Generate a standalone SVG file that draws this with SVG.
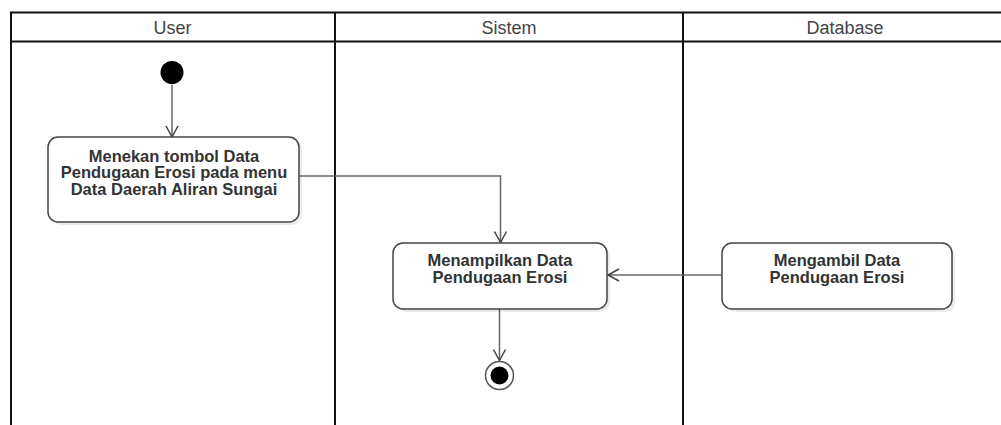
<svg xmlns="http://www.w3.org/2000/svg" width="1001" height="425" viewBox="0 0 1001 425">
<style>
.lane{fill:none;stroke:#111;stroke-width:2}
.hdr{font-family:"Liberation Sans",Arial,sans-serif;font-size:18px;fill:#444;text-anchor:middle}
.box{fill:#fff;stroke:#444;stroke-width:1.5}
.shadow{fill:#000;opacity:0.08}
.lbl{font-family:"Liberation Sans",Arial,sans-serif;font-size:16.5px;font-weight:bold;fill:#333;text-anchor:middle}
.edge{fill:none;stroke:#666;stroke-width:1.5}
</style>
<defs>
<marker id="arr" markerUnits="userSpaceOnUse" markerWidth="14" markerHeight="14" viewBox="0 0 14 14" refX="12" refY="7" orient="auto">
<path d="M1,1 L12,7 L1,13" fill="none" stroke="#444" stroke-width="1.5"/>
</marker>
</defs>
<rect width="1001" height="425" fill="#fff"/>
<g id="swimlanes">
<path class="lane" d="M11,425 V12.5 H1010 M11,41.5 H1010 M335,12.5 V425 M683,12.5 V425"/>
<text class="hdr" x="172.5" y="34">User</text>
<text class="hdr" x="509" y="34">Sistem</text>
<text class="hdr" x="845" y="34">Database</text>
</g>
<g id="connectors">
<path class="edge" d="M172,84.5 V137" marker-end="url(#arr)"/>
<path class="edge" d="M299,176 H500.5 V242.5" marker-end="url(#arr)"/>
<path class="edge" d="M722,275 H608" marker-end="url(#arr)"/>
<path class="edge" d="M499.5,309 V360.5" marker-end="url(#arr)"/>
</g>
<g id="start">
<circle cx="172" cy="72.5" r="11.5" fill="#000"/>
</g>
<g id="act1">
<rect class="shadow" x="51" y="140" width="251" height="85" rx="10"/>
<rect class="box" x="48" y="137" width="251" height="85" rx="10"/>
<text class="lbl" x="174" y="161.5">Menekan tombol Data</text>
<text class="lbl" x="174" y="178">Pendugaan Erosi pada menu</text>
<text class="lbl" x="174" y="194.5">Data Daerah Aliran Sungai</text>
</g>
<g id="act2">
<rect class="shadow" x="396" y="246" width="214" height="66" rx="10"/>
<rect class="box" x="393" y="243" width="214" height="66" rx="10"/>
<text class="lbl" x="500" y="266">Menampilkan Data</text>
<text class="lbl" x="500" y="282.5">Pendugaan Erosi</text>
</g>
<g id="act3">
<rect class="shadow" x="725" y="246" width="230" height="66" rx="10"/>
<rect class="box" x="722" y="243" width="230" height="66" rx="10"/>
<text class="lbl" x="837" y="266">Mengambil Data</text>
<text class="lbl" x="837" y="282.5">Pendugaan Erosi</text>
</g>
<g id="end">
<circle cx="499.5" cy="375.5" r="14" fill="#fff" stroke="#555" stroke-width="1.5"/>
<circle cx="499.5" cy="375.5" r="9" fill="#000"/>
</g>
</svg>
